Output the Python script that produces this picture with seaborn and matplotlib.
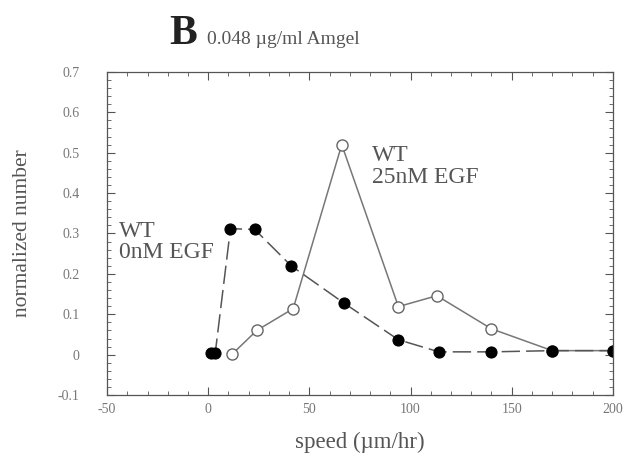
import matplotlib
matplotlib.use("Agg")
import matplotlib.pyplot as plt
import seaborn as sns
import pandas as pd
from matplotlib.ticker import MultipleLocator

# data
speed_0nm = [1.5, 3.5, 11, 23, 41, 67, 94, 114, 140, 170, 200]
norm_0nm = [0.005, 0.005, 0.312, 0.31, 0.22, 0.128, 0.037, 0.007, 0.007, 0.01, 0.01]
speed_25nm = [12, 24, 42, 66, 94, 113, 140, 170, 200]
norm_25nm = [0.002, 0.06, 0.114, 0.52, 0.119, 0.146, 0.064, 0.01, 0.01]
x_ticks = [-50, 0, 50, 100, 150, 200]
y_ticks = [-0.1, 0, 0.1, 0.2, 0.3, 0.4, 0.5, 0.6, 0.7]

sns.set_theme(style="ticks")
plt.rcParams['font.family'] = ['Liberation Serif', 'DejaVu Serif']

fig = plt.figure(figsize=(6.26, 4.61), dpi=100)
ax = fig.add_axes([0.171, 0.143, 0.808, 0.701])

df25 = pd.DataFrame({"speed": speed_25nm, "norm": norm_25nm})
df0 = pd.DataFrame({"speed": speed_0nm, "norm": norm_0nm})

sns.lineplot(data=df25, x="speed", y="norm", sort=False, ax=ax,
             color="#777777", linewidth=1.1, marker="o", markersize=8,
             markerfacecolor="white", markeredgecolor="#666666",
             markeredgewidth=1.0)
sns.lineplot(data=df0, x="speed", y="norm", sort=False, ax=ax,
             color="#555555", linewidth=1.1, linestyle=(0, (12, 4)),
             marker="o", markersize=8, markerfacecolor="black",
             markeredgecolor="black")

ax.set_xlim(-50, 200)
ax.set_ylim(-0.1, 0.7)
ax.set_xticks(x_ticks)
ax.set_yticks(y_ticks)
ax.set_xticklabels([str(v) for v in x_ticks])
ax.set_yticklabels(["-0.1", "0", "0.1", "0.2", "0.3", "0.4", "0.5", "0.6", "0.7"])
ax.xaxis.set_minor_locator(MultipleLocator(10))
ax.yaxis.set_minor_locator(MultipleLocator(0.02))
ax.tick_params(which="both", direction="in", top=True, right=True,
               color="#555555", labelcolor="#777777", labelsize=10)
ax.tick_params(which="major", length=6, width=0.8)
ax.tick_params(which="minor", length=3, width=0.6)
ax.tick_params(axis="x", pad=6)
ax.tick_params(axis="y", pad=20)
for s in ax.spines.values():
    s.set_color("#555555")
    s.set_linewidth(0.9)

ax.set_xlabel("speed (µm/hr)", fontsize=16.5, color="#555555", labelpad=11)
ax.set_ylabel("normalized number", fontsize=15.5, color="#555555", labelpad=18)

ax.text(-44, 0.28, "WT\n0nM EGF", fontsize=17, color="#555555",
        va="center", ha="left", linespacing=1.0)
ax.text(81, 0.465, "WT\n25nM EGF", fontsize=17, color="#555555",
        va="center", ha="left", linespacing=1.05)

fig.text(0.271, 0.905, "B", fontsize=30, fontweight="bold", color="#222222",
         ha="left", va="baseline")
fig.text(0.331, 0.905, "0.048 µg/ml Amgel", fontsize=14, color="#555555",
         ha="left", va="baseline")

fig.savefig("out.png", dpi=100, facecolor="white")
